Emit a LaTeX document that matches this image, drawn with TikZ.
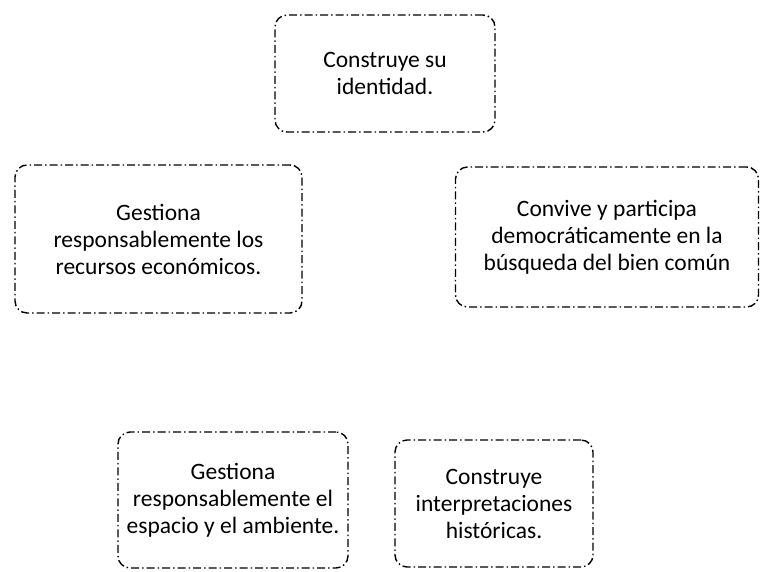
\documentclass[tikz,border=0pt]{standalone}
\usepackage{fontspec}
\setmainfont{Carlito}
\begin{document}
\begin{tikzpicture}[x=1pt,y=-1pt,
  box/.style={draw, line width=1.4pt, rounded corners=12pt,
    dash pattern=on 8pt off 3pt on 1.5pt off 3pt,
    align=center, font=\fontsize{23.5}{27}\selectfont, inner sep=0pt}]
\useasboundingbox (0,0) rectangle (762,571);
\node[box, minimum width=220pt, minimum height=117pt] (a) at (385,73.5) {Construye su\\identidad.};
\node[box, minimum width=287pt, minimum height=148pt] (b) at (158.5,239) {Gestiona\\responsablemente los\\recursos económicos.};
\node[box, minimum width=303pt, minimum height=140pt] (c) at (607,237) {Convive y participa\\democráticamente en la\\búsqueda del bien común};
\node[box, minimum width=230pt, minimum height=136pt] (d) at (233,500) {Gestiona\\responsablemente el\\espacio y el ambiente.};
\node[box, minimum width=198pt, minimum height=127pt] (e) at (494,503.5) {Construye\\interpretaciones\\históricas.};
\end{tikzpicture}
\end{document}
